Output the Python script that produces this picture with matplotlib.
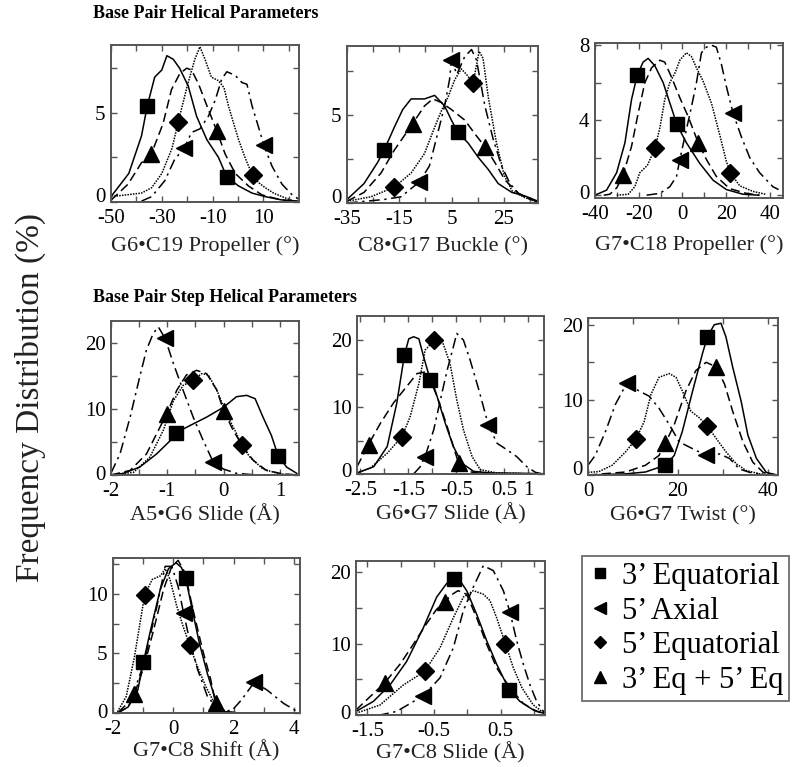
import matplotlib
matplotlib.use("Agg")
import matplotlib.pyplot as plt
import matplotlib.transforms as mtrans
from matplotlib.lines import Line2D

plt.rcParams['font.family'] = ['Liberation Serif', 'DejaVu Serif']
plt.rcParams['axes.unicode_minus'] = False

# ---- data ----
series_labels = ['3\u2019 Equatorial', '5\u2019 Axial', '5\u2019 Equatorial', '3\u2019 Eq + 5\u2019 Eq']

# G6-C19 Propeller
p1_sq_x = [-50, -43, -38, -35.7, -32.8, -30, -28, -25.5, -23, -19.6, -16.3, -12.3, -7.7, -4.4, 0.2, 5.5, 10.7, 17, 24]
p1_sq_y = [0.3, 1.6, 3.7, 5.4, 7.0, 7.4, 8.2, 8.0, 7.5, 6.5, 4.8, 3.5, 2.5, 1.4, 0.9, 0.5, 0.3, 0.12, 0.05]
p1_ax_x = [-38, -34, -28.8, -24.9, -21.2, -18.3, -15, -11.7, -9, -6.4, -4.4, -1.1, 1.5, 3.5, 5.5, 8.7, 10.1, 13.4, 17.3, 21.3, 24]
p1_ax_y = [0.05, 0.3, 1.2, 2.4, 3.0, 3.9, 4.1, 4.8, 5.7, 6.9, 7.3, 7.1, 6.7, 6.6, 5.4, 3.9, 3.2, 2.0, 1.0, 0.4, 0.15]
p1_di_x = [-50, -44, -38, -34, -30, -26, -23.5, -20, -17, -15, -13, -10.5, -7.7, -5.5, -3.8, -1.5, 0.2, 3, 5.7, 8, 10.7, 14, 17.3, 22]
p1_di_y = [0.3, 0.4, 0.5, 0.8, 1.6, 3.0, 4.5, 6.5, 8.0, 8.7, 8.0, 7.0, 6.8, 6.4, 5.4, 4.3, 3.5, 2.4, 1.5, 1.1, 0.8, 0.5, 0.3, 0.05]
p1_tr_x = [-50, -43.3, -38, -34.1, -29.5, -26.2, -22.9, -20.2, -18.3, -15.5, -12, -8.4, -5.1, -1.1, 4.1, 9.4, 14.7, 20]
p1_tr_y = [0.1, 1.0, 2.2, 2.7, 4.4, 6.3, 7.2, 7.5, 7.4, 6.6, 5.3, 4.0, 2.7, 1.6, 0.9, 0.4, 0.2, 0.05]

# C8-G17 Buckle
p2_sq_x = [-35, -28.5, -23.3, -20.8, -16.9, -13.7, -10.5, -5.4, -1.5, 2.3, 4.9, 7.4, 11.3, 15.1, 19, 22.8, 28, 33, 38]
p2_sq_y = [0.2, 1.1, 2.3, 3.0, 4.3, 5.3, 5.9, 5.9, 6.1, 5.5, 4.7, 4.0, 3.4, 2.6, 1.9, 1.1, 0.6, 0.4, 0.1]
p2_ax_x = [-35, -20.8, -14.4, -7.3, -3.5, -0.25, 2.3, 4.2, 4.9, 7, 10, 12.6, 14.5, 17.7, 20.9, 24.1, 27.3, 30.5, 35.6, 38]
p2_ax_y = [0, 0.2, 0.35, 1.2, 2.1, 4.0, 5.5, 7.0, 8.1, 7.3, 8.3, 8.7, 8.1, 5.5, 3.6, 2.1, 1.1, 0.55, 0.15, 0.05]
p2_di_x = [-35, -25.9, -16.9, -10.5, -5.4, -1.5, 1.0, 3.6, 6.2, 8.7, 10.6, 13.2, 15.5, 17, 19, 22, 25, 28, 33, 38]
p2_di_y = [0.1, 0.35, 0.9, 1.7, 2.8, 4.3, 5.2, 6.0, 7.0, 7.6, 7.3, 6.8, 8.6, 8.2, 6.0, 3.5, 1.6, 0.7, 0.3, 0.05]
p2_tr_x = [-35, -28.5, -22, -16.9, -9.9, -5.4, -2.2, 1.0, 4.9, 10, 14.5, 17.7, 21.5, 25.4, 30.5, 35.6, 38]
p2_tr_y = [0.1, 0.6, 1.7, 3.0, 4.5, 5.5, 5.9, 5.7, 5.3, 4.7, 3.8, 3.2, 2.3, 1.3, 0.55, 0.2, 0.05]

# G7-C18 Propeller
p3_sq_x = [-40, -34.7, -30.1, -26.3, -23.3, -20.7, -18, -15.7, -12.6, -8.8, -4.3, -2.7, 1.8, 7.9, 14, 20.1, 27.7, 35]
p3_sq_y = [0, 0.27, 1.2, 2.8, 5.1, 6.4, 7.1, 7.3, 6.9, 6.0, 4.4, 3.8, 2.8, 1.7, 0.8, 0.3, 0.05, 0]
p3_ax_x = [-16.4, -10.3, -5.8, -2.7, -1.2, 1.8, 4.1, 6.4, 8.7, 11, 13.3, 15.5, 17.8, 20.1, 23.1, 27, 30.8, 35.3, 41.4, 44]
p3_ax_y = [0, 0.1, 0.45, 1.0, 1.9, 3.5, 4.7, 6.0, 7.6, 7.9, 8.0, 7.9, 7.0, 5.8, 4.4, 3.1, 2.0, 1.2, 0.45, 0.3]
p3_di_x = [-30, -24.8, -21.8, -19.5, -16, -12.6, -10.3, -8.1, -5.8, -3.5, -1.2, 1.8, 4.1, 6.4, 9.4, 13.3, 17.1, 20.1, 21.9, 26.2, 32.3, 38]
p3_di_y = [0, 0.05, 0.45, 1.2, 1.6, 2.5, 3.6, 5.1, 6.0, 6.5, 7.2, 7.6, 7.4, 6.8, 6.1, 4.9, 3.2, 1.8, 1.2, 0.5, 0.2, 0.05]
p3_tr_x = [-36, -33.2, -30, -27.1, -23.3, -20.2, -17.2, -14.1, -10.3, -8.1, -5, -1.2, 2.6, 7.2, 11, 15.5, 21.6, 29.2, 35]
p3_tr_y = [0, 0.05, 0.4, 1.1, 2.6, 4.4, 6.0, 6.8, 7.2, 7.1, 6.3, 5.2, 4.2, 2.8, 1.9, 1.0, 0.35, 0.1, 0]

# A5-G6 Slide
p4_sq_x = [-2, -1.78, -1.49, -1.19, -0.95, -0.85, -0.6, -0.3, 0.0, 0.23, 0.41, 0.56, 0.7, 0.85, 0.97, 1.12, 1.3]
p4_sq_y = [0, 0.25, 1.2, 3.2, 5.2, 6.4, 7.5, 8.8, 10.3, 11.9, 12.1, 11.6, 8.8, 6.0, 2.9, 1.2, 0.25]
p4_ax_x = [-2, -1.84, -1.66, -1.49, -1.37, -1.25, -1.16, -1.04, -0.89, -0.72, -0.54, -0.36, -0.18, 0.0, 0.23, 0.6, 1.0]
p4_ax_y = [0.3, 3.2, 8.8, 14.9, 19.0, 21.5, 22.5, 20.8, 16.9, 12.9, 8.8, 5.2, 1.9, 0.9, 0.25, 0, 0]
p4_di_x = [-2, -1.6, -1.31, -1.07, -0.89, -0.72, -0.54, -0.39, -0.27, -0.12, 0.05, 0.23, 0.32, 0.47, 0.7, 1.0, 1.34]
p4_di_y = [0, 0.4, 2.7, 6.8, 11.3, 13.6, 14.4, 15.4, 15.2, 12.9, 9.3, 6.3, 4.5, 2.7, 0.9, 0.15, 0]
p4_tr_x = [-2, -1.66, -1.37, -1.01, -0.83, -0.66, -0.48, -0.3, -0.12, 0.0, 0.17, 0.35, 0.53, 0.76, 1.06, 1.34]
p4_tr_y = [0, 0.7, 3.2, 9.3, 12.9, 15.2, 15.9, 15.4, 12.9, 9.8, 6.8, 4.2, 2.2, 0.7, 0.15, 0]

# G6-G7 Slide
p5_sq_x = [-2.57, -2.22, -1.94, -1.74, -1.58, -1.49, -1.39, -1.28, -1.18, -1.04, -0.9, -0.73, -0.56, -0.38, -0.14, 0.21, 0.8, 1.3]
p5_sq_y = [0.15, 1.1, 4.1, 10.6, 17.8, 20.2, 20.5, 20.2, 17.5, 14.0, 11.6, 7.6, 4.1, 1.6, 0.4, 0.15, 0.1, 0.05]
p5_ax_x = [-1.39, -1.25, -1.15, -0.97, -0.83, -0.69, -0.56, -0.49, -0.35, -0.21, -0.03, 0.17, 0.35, 0.56, 0.76, 0.97, 1.15, 1.3]
p5_ax_y = [0, 1.1, 2.6, 6.6, 11.1, 15.5, 19.0, 21.0, 20.0, 17.0, 12.6, 7.3, 4.6, 3.6, 2.6, 1.1, 0.25, 0]
p5_di_x = [-2.57, -2.29, -1.94, -1.63, -1.46, -1.28, -1.15, -0.96, -0.8, -0.63, -0.49, -0.35, -0.17, 0.0, 0.35, 0.8, 1.3]
p5_di_y = [0.2, 0.9, 3.1, 5.6, 8.6, 13.5, 18.5, 20.0, 20.0, 16.5, 11.1, 6.6, 2.6, 0.65, 0.15, 0.1, 0]
p5_tr_x = [-2.57, -2.33, -2.08, -1.81, -1.53, -1.32, -1.11, -0.97, -0.83, -0.69, -0.56, -0.45, -0.28, 0.0, 0.8, 1.3]
p5_tr_y = [1.1, 4.4, 7.6, 10.6, 13.1, 15.0, 15.3, 13.1, 10.1, 7.1, 4.1, 1.6, 0.4, 0.1, 0.05, 0]

# G6-G7 Twist
p6_sq_x = [0, 8.4, 12.8, 17.2, 19.2, 21, 23.3, 25.5, 26.6, 28.1, 29.6, 30.7, 32.2, 34.1, 35.6, 37.5, 39.7, 42]
p6_sq_y = [0, 0.15, 0.4, 1.3, 2.6, 5.8, 11.2, 16.2, 18.4, 20.0, 20.2, 18.4, 14.4, 9.8, 5.3, 2.2, 0.35, 0]
p6_ax_x = [0, 1.6, 3.9, 6.1, 8.7, 11.3, 13.6, 15.8, 18.1, 20.3, 23.3, 26.3, 29.3, 31.5, 33.7, 36, 39.7, 42]
p6_ax_y = [1.3, 2.6, 5.8, 9.4, 12.3, 11.2, 10.5, 8.9, 6.7, 4.4, 3.5, 2.6, 2.8, 2.2, 0.8, 0.35, 0, 0]
p6_di_x = [0, 2.4, 5.4, 8.4, 10.7, 12.5, 14, 15.8, 18.1, 19.6, 21, 22.9, 24.8, 26.6, 28.5, 30.7, 33, 35.2, 38.2, 42]
p6_di_y = [0.35, 0.45, 1.3, 3.1, 4.8, 7.1, 10.7, 13.0, 13.5, 13.0, 11.2, 8.5, 7.6, 6.5, 4.9, 3.1, 1.5, 0.6, 0.15, 0]
p6_tr_x = [0, 8.4, 12.8, 15.8, 17.2, 19.2, 21.8, 24, 26.3, 28.5, 30.4, 32.2, 34.5, 36.7, 39, 42]
p6_tr_y = [0, 0.4, 1.3, 2.6, 4.2, 6.7, 11.2, 13.9, 15.0, 14.4, 12.1, 8.5, 4.4, 1.7, 0.35, 0]

# G7-C8 Shift
p7_sq_x = [-1.85, -1.5, -1.18, -0.99, -0.75, -0.43, -0.16, 0.09, 0.27, 0.41, 0.65, 0.86, 1.13, 1.4, 1.72, 2.2, 4.2]
p7_sq_y = [0, 0.5, 1.9, 4.3, 7.0, 10.4, 12.1, 12.6, 12.2, 11.3, 8.4, 5.9, 3.3, 1.1, 0.1, 0, 0]
p7_ax_x = [-1.85, -1.4, -0.97, -0.54, -0.27, -0.05, 0.16, 0.34, 0.54, 0.81, 1.13, 1.51, 1.94, 2.26, 2.69, 3.12, 3.66, 4.19]
p7_ax_y = [0, 1.1, 4.2, 9.0, 12.3, 12.3, 10.6, 8.4, 6.1, 3.6, 1.4, 0.2, 0.2, 1.1, 2.6, 1.9, 0.8, 0]
p7_di_x = [-1.85, -1.56, -1.29, -0.95, -0.7, -0.43, -0.27, -0.11, 0.11, 0.32, 0.54, 0.75, 1.08, 1.4, 1.72, 2.2, 4.2]
p7_di_y = [0.1, 1.4, 4.7, 9.9, 11.2, 11.5, 12.1, 11.2, 9.0, 7.3, 5.7, 4.2, 2.2, 0.65, 0.1, 0, 0]
p7_tr_x = [-1.85, -1.5, -1.29, -0.97, -0.65, -0.32, -0.05, 0.16, 0.38, 0.65, 0.97, 1.24, 1.4, 1.72, 2.2, 4.2]
p7_tr_y = [0, 0.5, 1.6, 3.9, 7.0, 10.4, 12.3, 12.8, 11.8, 8.7, 5.3, 2.8, 0.8, 0.1, 0, 0]

# G7-C8 Slide
p8_sq_x = [-1.67, -1.41, -1.16, -0.91, -0.66, -0.46, -0.31, -0.2, -0.11, -0.01, 0.14, 0.29, 0.44, 0.63, 0.79, 0.99, 1.16]
p8_sq_y = [0.5, 1.9, 4.2, 7.5, 12.2, 16.5, 18.4, 19.1, 18.8, 17.4, 14.1, 10.4, 7.1, 3.5, 1.9, 0.7, 0.2]
p8_ax_x = [-1.67, -1.31, -1.06, -0.66, -0.41, -0.21, -0.06, 0.09, 0.24, 0.39, 0.54, 0.64, 0.74, 0.84, 0.94, 1.04, 1.16]
p8_ax_y = [0, 0, 0.5, 2.7, 5.2, 9.4, 14.6, 17.9, 20.9, 20.2, 17.4, 14.4, 10.4, 7.1, 4.2, 1.9, 0.25]
p8_di_x = [-1.67, -1.31, -0.96, -0.64, -0.41, -0.21, -0.06, 0.09, 0.24, 0.34, 0.44, 0.57, 0.69, 0.82, 0.99, 1.16]
p8_di_y = [0.25, 1.4, 4.2, 6.1, 9.4, 13.6, 16.5, 17.4, 16.9, 16.0, 13.6, 10.0, 6.6, 3.8, 1.4, 0.2]
p8_tr_x = [-1.67, -1.24, -1.01, -0.81, -0.61, -0.46, -0.34, -0.24, -0.14, -0.01, 0.14, 0.29, 0.44, 0.64, 0.84, 1.04, 1.16]
p8_tr_y = [0.7, 4.5, 7.1, 9.9, 12.8, 14.8, 15.8, 16.8, 17.4, 16.9, 13.6, 9.9, 6.6, 3.8, 1.6, 0.5, 0.2]

# ---- styles ----
W, H = 801, 767
styles = [
    dict(ls='-', marker='s', ms=10),
    dict(ls=(0, (7, 3, 1.5, 3)), marker='<', ms=12),
    dict(ls=(0, (1, 0.8)), marker='D', ms=9),
    dict(ls=(0, (6, 3)), marker='^', ms=12),
]

# each panel: curves (sq, axial, diamond, triangle) with marker indices, pixel box, limits, ticks
# zshift: how far (px) the "0" tick label sits above its tick in the reference
panels = [
    dict(curves=[(p1_sq_x, p1_sq_y, [3, 13]), (p1_ax_x, p1_ax_y, [4, 16]),
                 (p1_di_x, p1_di_y, [6, 18]), (p1_tr_x, p1_tr_y, [3, 11])],
         box=(111, 299, 45, 202), xlim=(-50, 24), ylim=(0, 8.8),
         xt=[-50, -30, -10, 10], xm=[-40, -20, 0, 20], yt=[0, 5], ym=[2.5, 7.5],
         xlabel='G6\u2022C19 Propeller (\u00b0)', lpad=6, zshift=7),
    dict(curves=[(p2_sq_x, p2_sq_y, [3, 11]), (p2_ax_x, p2_ax_y, [3, 8]),
                 (p2_di_x, p2_di_y, [2, 11]), (p2_tr_x, p2_tr_y, [4, 11])],
         box=(347, 538, 46, 203), xlim=(-35, 38), ylim=(0, 8.9),
         xt=[-35, -15, 5, 25], xm=[-25, -5, 15, 35], yt=[0, 5], ym=[2.5, 7.5],
         xlabel='C8\u2022G17 Buckle (\u00b0)', lpad=6, zshift=7),
    dict(curves=[(p3_sq_x, p3_sq_y, [5, 11]), (p3_ax_x, p3_ax_y, [4, 14]),
                 (p3_di_x, p3_di_y, [5, 18]), (p3_tr_x, p3_tr_y, [3, 13])],
         box=(595, 783, 43, 198), xlim=(-40, 46), ylim=(-0.15, 8.12),
         xt=[-40, -20, 0, 20, 40], xm=[-30, -10, 10, 30], yt=[0, 4, 8], ym=[2, 6],
         xlabel='G7\u2022C18 Propeller (\u00b0)', lpad=8, zshift=3),
    dict(curves=[(p4_sq_x, p4_sq_y, [5, 14]), (p4_ax_x, p4_ax_y, [7, 12]),
                 (p4_di_x, p4_di_y, [6, 12]), (p4_tr_x, p4_tr_y, [3, 9])],
         box=(111, 299, 321, 475), xlim=(-2, 1.34), ylim=(0, 23.4),
         xt=[-2, -1, 0, 1], xm=[-1.5, -0.5, 0.5], yt=[0, 10, 20], ym=[5, 15],
         xlabel='A5\u2022G6 Slide (\u00c5)', lpad=2, zshift=2),
    dict(curves=[(p5_sq_x, p5_sq_y, [4, 9]), (p5_ax_x, p5_ax_y, [2, 11]),
                 (p5_di_x, p5_di_y, [3, 7]), (p5_tr_x, p5_tr_y, [1, 11])],
         box=(357, 544, 316, 474), xlim=(-2.57, 1.33), ylim=(0, 23.6),
         xt=[-2.5, -1.5, -0.5, 0.5, 1], xm=[-2, -1, 0], yt=[0, 10, 20], ym=[5, 15],
         xlabel='G6\u2022G7 Slide (\u00c5)', lpad=2, zshift=4),
    dict(curves=[(p6_sq_x, p6_sq_y, [3, 8]), (p6_ax_x, p6_ax_y, [4, 11]),
                 (p6_di_x, p6_di_y, [4, 13]), (p6_tr_x, p6_tr_y, [4, 9])],
         box=(588, 778, 318, 475), xlim=(0, 42.3), ylim=(0, 20.9),
         xt=[0, 20, 40], xm=[10, 30], yt=[0, 10, 20], ym=[5, 15],
         xlabel='G6\u2022G7 Twist (\u00b0)', lpad=4, zshift=7),
    dict(curves=[(p7_sq_x, p7_sq_y, [3, 9]), (p7_ax_x, p7_ax_y, [7, 14]),
                 (p7_di_x, p7_di_y, [3, 10]), (p7_tr_x, p7_tr_y, [2, 12])],
         box=(113, 300, 558, 713), xlim=(-1.85, 4.2), ylim=(0, 13.0),
         xt=[-2, 0, 2, 4], xm=[-1, 1, 3], yt=[0, 5, 10], ym=[2.5, 7.5, 12.5],
         xlabel='G7\u2022C8 Shift (\u00c5)', lpad=1, zshift=2),
    dict(curves=[(p8_sq_x, p8_sq_y, [7, 13]), (p8_ax_x, p8_ax_y, [3, 11]),
                 (p8_di_x, p8_di_y, [3, 11]), (p8_tr_x, p8_tr_y, [1, 6])],
         box=(356, 545, 561, 715), xlim=(-1.67, 1.165), ylim=(0, 21.55),
         xt=[-1.5, -0.5, 0.5], xm=[-1, 0, 1], yt=[0, 10, 20], ym=[5, 15],
         xlabel='G7\u2022C8 Slide (\u00c5)', lpad=1, zshift=3),
]


def fmt(v):
    return f"{v:g}"


fig = plt.figure(figsize=(W / 100, H / 100), dpi=100)

for p in panels:
    x0, x1, y0, y1 = p['box']
    ax = fig.add_axes([x0 / W, 1 - y1 / H, (x1 - x0) / W, (y1 - y0) / H])
    for (xs, ys, marks), st in zip(p['curves'], styles):
        ax.plot(xs, ys, color='black', lw=1.1, linestyle=st['ls'],
                marker=st['marker'], markersize=st['ms'], markevery=marks,
                markerfacecolor='black', markeredgecolor='black')
    ax.set_xlim(*p['xlim'])
    ax.set_ylim(*p['ylim'])
    ax.set_xticks(p['xt'])
    ax.set_xticklabels([fmt(v) for v in p['xt']])
    ax.set_xticks(p['xm'], minor=True)
    ax.set_yticks(p['yt'])
    ax.set_yticklabels([fmt(v) for v in p['yt']])
    ax.set_yticks(p['ym'], minor=True)
    ax.tick_params(which='both', direction='in', top=True, right=True,
                   length=4, width=1, color='#555555', labelsize=15)
    ax.tick_params(axis='x', pad=5)
    ax.tick_params(axis='y', pad=4)
    # the "0" label is lifted a little off the corner, as in the original
    lift = mtrans.ScaledTranslation(0, p['zshift'] / 100, fig.dpi_scale_trans)
    zero_lbl = ax.get_yticklabels()[0]
    zero_lbl.set_transform(zero_lbl.get_transform() + lift)
    for s in ax.spines.values():
        s.set_linewidth(1.4)
        s.set_color('#555555')
    ax.set_xlabel(p['xlabel'], fontsize=16, labelpad=p['lpad'], color='#222222')

# section titles
fig.text(93 / W, 1 - 13 / H, 'Base Pair Helical Parameters', fontsize=13,
         fontweight='bold', va='center', ha='left')
fig.text(93 / W, 1 - 297 / H, 'Base Pair Step Helical Parameters', fontsize=13,
         fontweight='bold', va='center', ha='left')

# shared y label
fig.text(30 / W, 1 - 397 / H, 'Frequency Distribution (%)', fontsize=24,
         rotation=90, ha='center', va='center', color='#222222')

# legend, markers only
handles = [Line2D([], [], linestyle='none', marker=st['marker'], color='black',
                  markersize=st['ms'] * 0.7) for st in styles]
leg = fig.legend(handles, series_labels, loc='upper left',
                 bbox_to_anchor=(582 / W, 1 - 556 / H), fontsize=22,
                 frameon=True, fancybox=False, handlelength=0.8,
                 handletextpad=0.3, labelspacing=0.18, borderpad=0.2,
                 borderaxespad=0)
leg.get_frame().set_edgecolor('#555555')
leg.get_frame().set_linewidth(1.4)

fig.savefig('out.png', dpi=100)
